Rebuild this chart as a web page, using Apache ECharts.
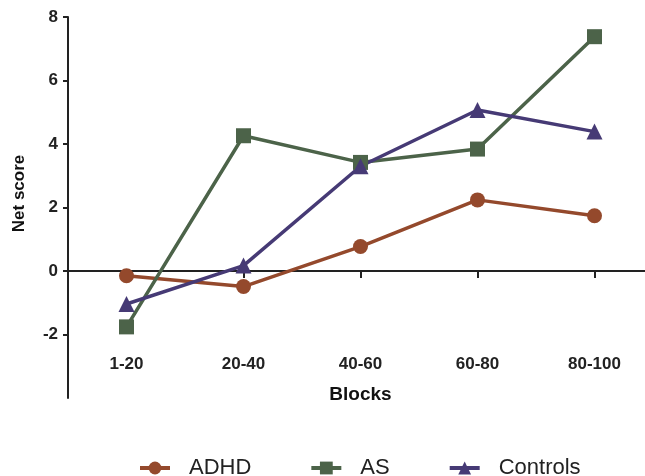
<!DOCTYPE html>
<html>
<head>
<meta charset="utf-8">
<script src="https://cdn.jsdelivr.net/npm/echarts@6/dist/echarts.min.js"></script>
<style>
  html, body { margin: 0; padding: 0; background: #fff; }
  #chart { width: 645px; height: 476px; }
</style>
</head>
<body>
<div id="chart"></div>
<script>
// blocks of trials
const blocks = ['1-20', '20-40', '40-60', '60-80', '80-100'];
// net score per group
const adhd = [-0.15, -0.49, 0.77, 2.24, 1.74];
const as = [-1.76, 4.26, 3.42, 3.84, 7.38];
const controls = [-1.04, 0.17, 3.3, 5.07, 4.39];
const yTicks = [-2, 0, 2, 4, 6, 8];

const font = 'Liberation Sans, Arial, sans-serif';
const chart = echarts.init(document.getElementById('chart'));

function line(name, data, color, symbol, size) {
  return {
    name: name,
    type: 'line',
    data: data,
    symbol: symbol,
    symbolSize: size,
    lineStyle: { color: color, width: 3.5 },
    itemStyle: { color: color },
    emphasis: { disabled: true }
  };
}

chart.setOption({
  animation: false,
  grid: { left: 68, top: 17, width: 585, height: 381, outerBoundsMode: 'none' },
  xAxis: [
    {
      type: 'category',
      data: blocks,
      position: 'bottom',
      offset: -48,
      axisLine: { show: false, onZero: false },
      axisTick: { show: false },
      axisLabel: { margin: 6, fontSize: 17, fontWeight: 'bold', color: '#222', fontFamily: font },
      name: 'Blocks',
      nameLocation: 'middle',
      nameGap: 35,
      nameTextStyle: { fontSize: 19, fontWeight: 'bold', color: '#111', fontFamily: font }
    },
    {
      type: 'category',
      data: blocks,
      position: 'top',
      axisLine: { onZero: true, lineStyle: { color: '#222', width: 2 } },
      axisTick: { show: true, inside: true, length: 7, alignWithLabel: true, lineStyle: { color: '#222', width: 2 } },
      axisLabel: { show: false }
    }
  ],
  yAxis: {
    type: 'value',
    min: -4,
    max: 8,
    interval: 2,
    splitLine: { show: false },
    axisLine: { show: true, onZero: false, lineStyle: { color: '#222', width: 2 } },
    axisTick: { show: true, length: 5, customValues: yTicks, lineStyle: { color: '#222', width: 2 } },
    axisLabel: { margin: 10, fontSize: 17, fontWeight: 'bold', color: '#222', fontFamily: font, customValues: yTicks },
    name: 'Net score',
    nameLocation: 'middle',
    nameGap: 40,
    nameTextStyle: { fontSize: 17, fontWeight: 'bold', color: '#111', fontFamily: font, padding: [0, 0, 0, 28] }
  },
  legend: {
    left: 133,
    top: 452,
    itemGap: 58,
    itemWidth: 30,
    itemHeight: 16,
    lineStyle: { width: 4 },
    textStyle: { fontSize: 22, color: '#222', fontFamily: font, padding: [0, 0, 0, 14] },
    data: ['ADHD', 'AS', 'Controls']
  },
  series: [
    line('ADHD', adhd, '#94492c', 'circle', 15),
    line('AS', as, '#4c6349', 'rect', 15),
    line('Controls', controls, '#463a75', 'triangle', 16)
  ]
});
</script>
</body>
</html>
